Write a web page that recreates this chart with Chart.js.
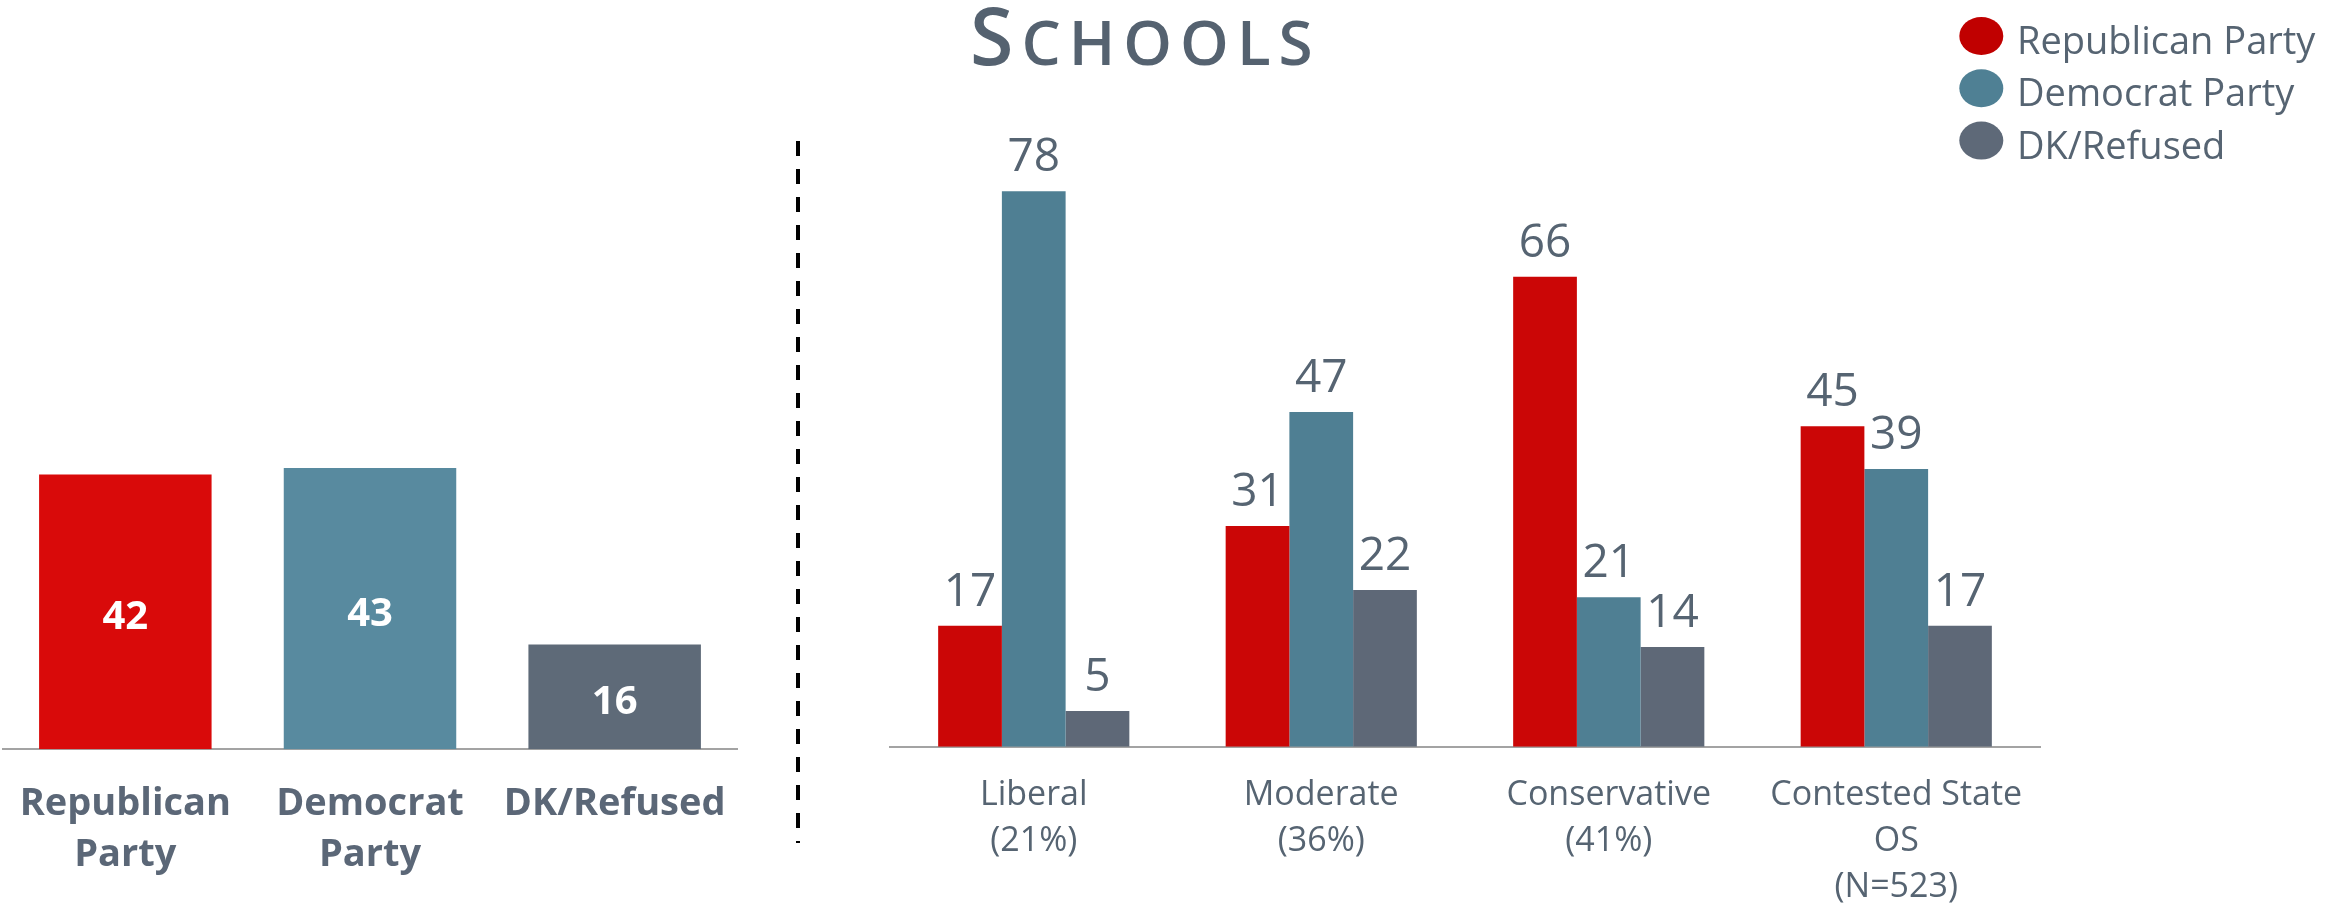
<!DOCTYPE html>
<html>
<head>
<meta charset="utf-8">
<script src="https://cdn.jsdelivr.net/npm/chart.js@4.4.1/dist/chart.umd.min.js"></script>
<style>
  html, body { margin:0; padding:0; background:#fff; }
  body { width:2330px; height:907px; overflow:hidden; position:relative; font-family:'Open Sans', sans-serif; }
  #title { position:absolute; left:970px; top:-5px; color:#556270; font-weight:600; font-size:79px; line-height:79px; white-space:nowrap; letter-spacing:8px; }
  #title .sm { font-size:62px; }
  #leftWrap { position:absolute; left:0; top:0; width:760px; height:907px; }
  #rightWrap { position:absolute; left:760px; top:0; width:1570px; height:907px; }
</style>
</head>
<body>
<div id="title"><span>S</span><span class="sm">CHOOLS</span></div>
<div id="leftWrap"><canvas id="leftChart"></canvas></div>
<div id="rightWrap"><canvas id="rightChart"></canvas></div>
<script>
// ---- data ----
const seriesNames = ["Republican Party", "Democrat Party", "DK/Refused"];
const leftTickLabels = [["Republican", "Party"], ["Democrat", "Party"], ["DK/Refused"]];
const leftValues = [42, 43, 16];
const rightTickLabels = [["Liberal", "(21%)"], ["Moderate", "(36%)"], ["Conservative", "(41%)"], ["Contested State", "OS", "(N=523)"]];
const republicanValues = [17, 31, 66, 45];
const democratValues = [78, 47, 21, 39];
const dkRefusedValues = [5, 22, 14, 17];

// ---- styles ----
const TEXT = '#566472';
const leftColors = ['#d90a0a', '#588a9f', '#5e6a78'];
const rightColors = ['#cb0606', '#4f7f93', '#5e6877'];
const legendColors = ['#c00000', '#4f8094', '#5e6978'];

Chart.defaults.font.family = "'Open Sans', sans-serif";
Chart.defaults.color = TEXT;

const leftLabelsPlugin = {
  id: 'leftLabels',
  afterDatasetsDraw(chart) {
    const ctx = chart.ctx;
    const meta = chart.getDatasetMeta(0);
    ctx.save();
    ctx.font = "bold 40px 'Open Sans', sans-serif";
    ctx.fillStyle = '#ffffff';
    ctx.textAlign = 'center';
    ctx.textBaseline = 'middle';
    meta.data.forEach((el, i) => {
      ctx.fillText(String(chart.data.datasets[0].data[i]), el.x, (el.y + el.base) / 2 + 6);
    });
    ctx.restore();
  }
};

const rightExtrasPlugin = {
  id: 'rightExtras',
  afterDatasetsDraw(chart) {
    const ctx = chart.ctx;
    ctx.save();
    // value labels
    ctx.font = "46px 'Open Sans', sans-serif";
    ctx.fillStyle = TEXT;
    ctx.textAlign = 'center';
    ctx.textBaseline = 'alphabetic';
    chart.data.datasets.forEach((ds, di) => {
      chart.getDatasetMeta(di).data.forEach((el, i) => {
        ctx.fillText(String(ds.data[i]), el.x, el.y - 20);
      });
    });
    // dashed separator
    ctx.strokeStyle = '#000000';
    ctx.lineWidth = 4;
    ctx.setLineDash([15, 13]);
    ctx.beginPath();
    ctx.moveTo(38, 141);
    ctx.lineTo(38, 843);
    ctx.stroke();
    ctx.setLineDash([]);
    // legend
    chart.data.datasets.forEach((ds, di) => {
      const cy = 36 + di * 52.3;
      ctx.fillStyle = legendColors[di];
      ctx.beginPath();
      ctx.ellipse(1981.3 - 760, cy, 22, 19, 0, 0, Math.PI * 2);
      ctx.fill();
      ctx.fillStyle = TEXT;
      ctx.font = "38px 'Open Sans', sans-serif";
      ctx.textAlign = 'left';
      ctx.fillText(ds.label, 2017 - 760, cy + 18);
    });
    ctx.restore();
  }
};

function fixXAxis(h) {
  return function (scale) {
    scale.height = h;
    scale.paddingLeft = 0;
    scale.paddingRight = 0;
  };
}

new Chart(document.getElementById('leftChart'), {
  type: 'bar',
  data: {
    labels: leftTickLabels,
    datasets: [{
      label: 'Total',
      data: leftValues,
      backgroundColor: leftColors,
      barPercentage: 0.705,
      categoryPercentage: 1
    }]
  },
  options: {
    responsive: true,
    maintainAspectRatio: false,
    animation: false,
    layout: { padding: { left: 3, right: 23, top: 95, bottom: 0 } },
    plugins: { legend: { display: false }, tooltip: { enabled: false } },
    scales: {
      x: {
        grid: { display: false, drawTicks: false },
        border: { display: true, color: '#a3a3a3', width: 2 },
        ticks: { color: '#5b6777', padding: 30, font: { size: 38, weight: 'bold', lineHeight: 1.33 }, maxRotation: 0, autoSkip: false },
        afterFit: fixXAxis(157.7)
      },
      y: { display: false, min: 0, max: 100 }
    }
  },
  plugins: [leftLabelsPlugin]
});

new Chart(document.getElementById('rightChart'), {
  type: 'bar',
  data: {
    labels: rightTickLabels,
    datasets: [
      { label: seriesNames[0], data: republicanValues, backgroundColor: rightColors[0], barPercentage: 1, categoryPercentage: 0.665 },
      { label: seriesNames[1], data: democratValues, backgroundColor: rightColors[1], barPercentage: 1, categoryPercentage: 0.665 },
      { label: seriesNames[2], data: dkRefusedValues, backgroundColor: rightColors[2], barPercentage: 1, categoryPercentage: 0.665 }
    ]
  },
  options: {
    responsive: true,
    maintainAspectRatio: false,
    animation: false,
    layout: { padding: { left: 130, right: 290, top: 34.7, bottom: 0 } },
    plugins: { legend: { display: false }, tooltip: { enabled: false } },
    scales: {
      x: {
        grid: { display: false, drawTicks: false },
        border: { display: true, color: '#a3a3a3', width: 2 },
        ticks: { color: TEXT, padding: 25, font: { size: 34, lineHeight: 1.36 }, maxRotation: 0, autoSkip: false },
        afterFit: fixXAxis(160.3)
      },
      y: { display: false, min: 0, max: 100 }
    }
  },
  plugins: [rightExtrasPlugin]
});
</script>
</body>
</html>
